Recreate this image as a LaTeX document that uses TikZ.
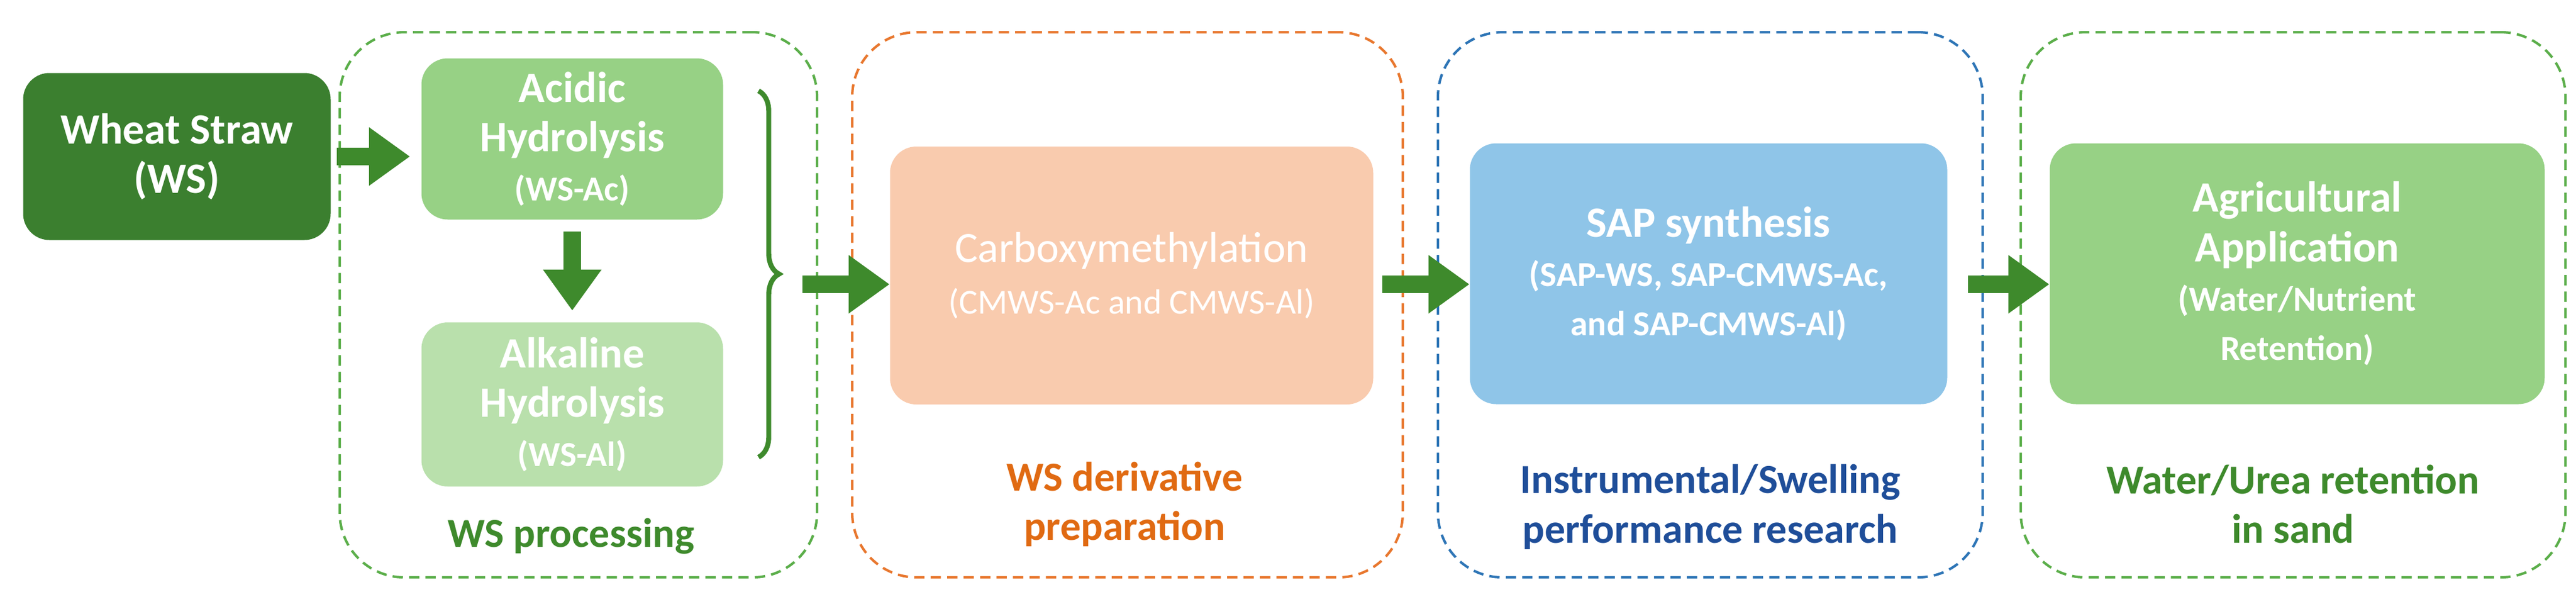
\documentclass[tikz,border=0pt]{standalone}
\usepackage{fontspec}
\setmainfont{Carlito}
\usetikzlibrary{arrows.meta,positioning,decorations.pathreplacing}
\definecolor{dkgreen}{HTML}{3B7F2F}
\definecolor{midgreen}{HTML}{97D185}
\definecolor{ltgreen}{HTML}{B9E0AC}
\definecolor{peach}{HTML}{F9CBAE}
\definecolor{skyblue}{HTML}{8FC5E8}
\definecolor{dashgreen}{HTML}{5BAE4A}
\definecolor{dashorange}{HTML}{E8772E}
\definecolor{dashblue}{HTML}{2E75B6}
\definecolor{txtgreen}{HTML}{3E8A2C}
\definecolor{txtorange}{HTML}{E06A12}
\definecolor{txtblue}{HTML}{1F4E99}
\tikzset{
  box/.style={rounded corners=0.45cm, text=white, font=\bfseries\fontsize{21}{24}\selectfont, align=center, inner sep=0pt},
  stage/.style={draw, dash pattern=on 5pt off 3pt, line width=1.2pt, rounded corners=1.1cm},
  flow/.style={-{Triangle[length=0.7cm,width=0.95cm]}, line width=0.3cm, draw=txtgreen},
  tag/.style={font=\bfseries\fontsize{20}{24}\selectfont, align=center}
}
\newcommand{\sub}[1]{{\fontsize{17}{20}\selectfont #1}}
\begin{document}
\begin{tikzpicture}
\useasboundingbox (0,0) rectangle (43.98,-10.09);
% stages
\node[stage, draw=dashgreen, minimum width=8.15cm, minimum height=9.3cm] (proc) at (9.875,-5.2) {};
\node[stage, draw=dashorange, minimum width=9.4cm, minimum height=9.3cm] (deriv) at (19.25,-5.2) {};
\node[stage, draw=dashblue, minimum width=9.3cm, minimum height=9.3cm] (instr) at (29.2,-5.2) {};
\node[stage, draw=dashgreen, minimum width=9.3cm, minimum height=9.3cm] (agri) at (39.15,-5.2) {};
% boxes
\node[box, fill=dkgreen, minimum width=5.25cm, minimum height=2.85cm] (ws) at (3.02,-2.67) {Wheat Straw\\(WS)};
\node[box, fill=midgreen, minimum width=5.15cm, minimum height=2.75cm] (acid) at (9.77,-2.37) {Acidic\\Hydrolysis\\\sub{(WS-Ac)}};
\node[box, fill=ltgreen, minimum width=5.15cm, minimum height=2.8cm] (alk) at (9.77,-6.9) {Alkaline\\Hydrolysis\\\sub{(WS-Al)}};
\node[box, fill=peach, font=\fontsize{21}{25}\selectfont, minimum width=8.25cm, minimum height=4.4cm] (cmws) at (19.32,-4.7) {Carboxymethylation\\\sub{(CMWS-Ac and CMWS-Al)}};
\node[box, fill=skyblue, minimum width=8.15cm, minimum height=4.45cm] (sap) at (29.17,-4.67) {SAP synthesis\\\sub{(SAP-WS, SAP-CMWS-Ac,}\\\sub{and SAP-CMWS-Al)}};
\node[box, fill=midgreen, minimum width=8.45cm, minimum height=4.45cm] (app) at (39.22,-4.67) {Agricultural\\Application\\\sub{(Water/Nutrient}\\\sub{Retention)}};
% labels
\node[tag, text=txtgreen] (tproc) at (9.75,-9.15) {WS processing};
\node[tag, text=txtorange] (tderiv) at (19.2,-8.6) {WS derivative\\preparation};
\node[tag, text=txtblue] (tinstr) at (29.2,-8.65) {Instrumental/Swelling\\performance research};
\node[tag, text=txtgreen] (tagri) at (39.15,-8.6) {Water/Urea retention\\in sand};
% brace
\coordinate (btop) at (12.95,-1.55);
\coordinate (bbot) at (12.95,-7.8);
\draw[decorate, decoration={brace, amplitude=0.35cm}, line width=2.4pt, draw=txtgreen] (btop) -- (bbot);
% arrows
\draw[flow] (5.75,-2.67) -- (7.0,-2.67);
\draw[flow] (acid.south) ++(0,-0.2) -- (9.77,-5.3);
\draw[flow] (13.7,-4.85) -- (cmws.west |- 0,-4.85);
\draw[flow] (23.6,-4.85) -- (sap.west |- 0,-4.85);
\draw[flow] (33.6,-4.85) -- (app.west |- 0,-4.85);
\end{tikzpicture}
\end{document}
